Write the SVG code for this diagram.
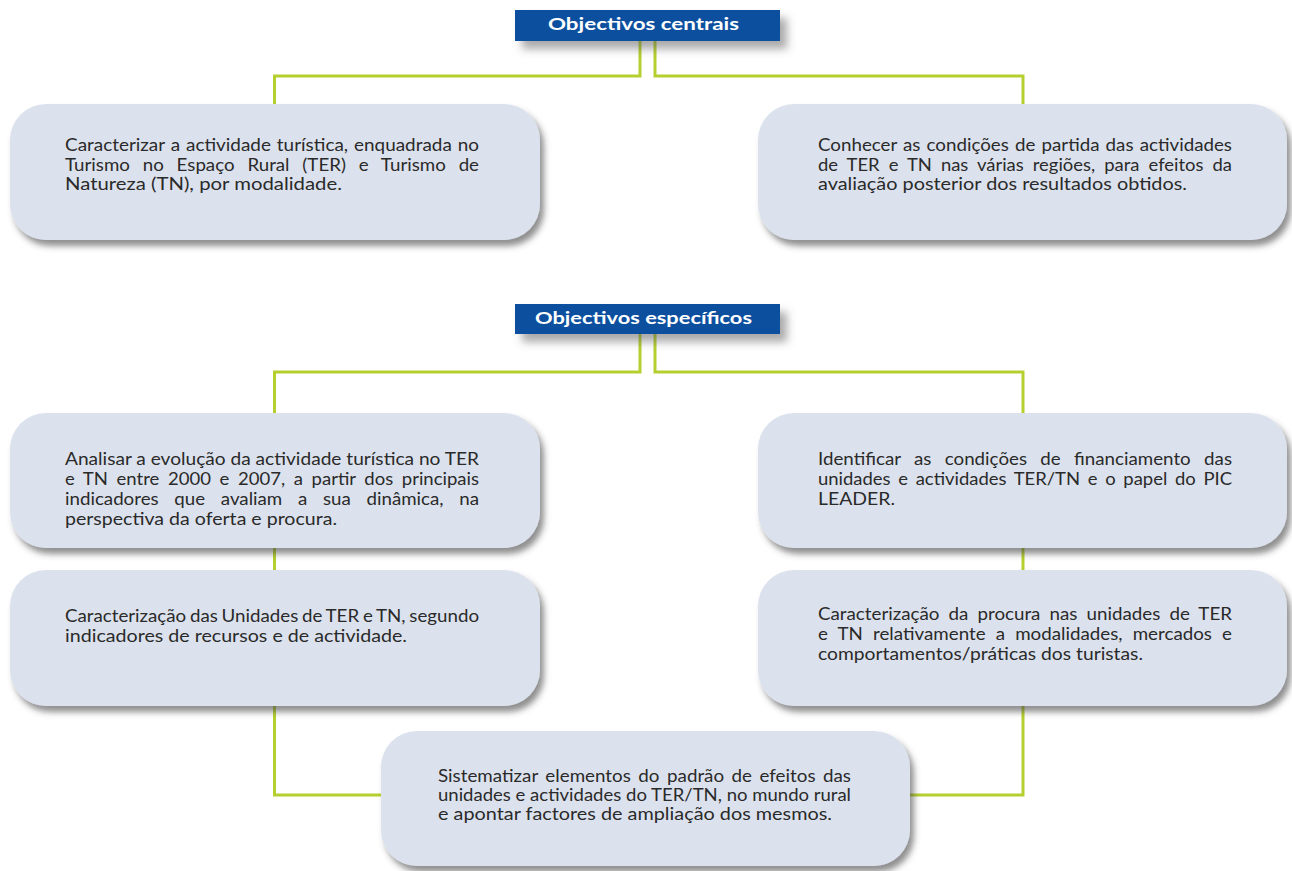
<svg xmlns="http://www.w3.org/2000/svg" width="1292" height="871" viewBox="0 0 1292 871">
<defs>
<filter id="sh" x="-5%" y="-10%" width="115%" height="130%">
<feDropShadow dx="4" dy="6" stdDeviation="3" flood-color="#444" flood-opacity="0.6"/>
</filter>
<filter id="hsh" x="-10%" y="-30%" width="130%" height="190%">
<feDropShadow dx="7" dy="8" stdDeviation="4" flood-color="#555" flood-opacity="0.5"/>
</filter>
<style>
.box{fill:#dce2ed;filter:url(#sh)}
.hdr{fill:#0e4f9f;filter:url(#hsh)}
.ht{font-family:Lato,"Liberation Sans",sans-serif;font-weight:bold;font-size:17.5px;fill:#ffffff}
.t{font-family:Lato,"Liberation Sans",sans-serif;font-size:17.5px;fill:#2a2a2a}
.c{fill:none;stroke:#b4d02f;stroke-width:3}
</style>
</defs>
<rect width="1292" height="871" fill="#ffffff"/>
<g id="connectors">
<path class="c" d="M640,41 V76 H274.5 V104"/>
<path class="c" d="M655,41 V76 H1023 V104"/>
<path class="c" d="M640,334 V372 H274.5 V413"/>
<path class="c" d="M655,334 V372 H1023 V413"/>
<path class="c" d="M274.5,548 V571"/>
<path class="c" d="M1023,548 V571"/>
<path class="c" d="M274.5,706 V795 H382"/>
<path class="c" d="M1023,706 V795 H909"/>
</g>
<g id="hdr-centrais">
<rect class="hdr" x="515" y="10" width="265" height="31"/>
<text class="ht" x="548" y="30" textLength="191" lengthAdjust="spacingAndGlyphs">Objectivos centrais</text>
</g>
<g id="hdr-especificos">
<rect class="hdr" x="515" y="304" width="265" height="30"/>
<text class="ht" x="535" y="324" textLength="217" lengthAdjust="spacingAndGlyphs">Objectivos específicos</text>
</g>
<g id="n1">
<rect class="box" x="10" y="104" width="530" height="136" rx="36"/>
<text class="t" x="65" y="151" word-spacing="1" textLength="414" lengthAdjust="spacingAndGlyphs">Caracterizar a actividade turística, enquadrada no</text>
<text class="t" x="65" y="171" word-spacing="7.5" textLength="414" lengthAdjust="spacingAndGlyphs">Turismo no Espaço Rural (TER) e Turismo de</text>
<text class="t" x="65" y="190" textLength="277" lengthAdjust="spacingAndGlyphs">Natureza (TN), por modalidade.</text>
</g>
<g id="n2">
<rect class="box" x="758" y="104" width="529" height="136" rx="36"/>
<text class="t" x="818" y="151" word-spacing="1.2" textLength="414" lengthAdjust="spacingAndGlyphs">Conhecer as condições de partida das actividades</text>
<text class="t" x="818" y="171" word-spacing="4.1" textLength="414" lengthAdjust="spacingAndGlyphs">de TER e TN nas várias regiões, para efeitos da</text>
<text class="t" x="818" y="190" textLength="369" lengthAdjust="spacingAndGlyphs">avaliação posterior dos resultados obtidos.</text>
</g>
<g id="n3">
<rect class="box" x="10" y="413" width="530" height="135" rx="36"/>
<text class="t" x="65" y="465" word-spacing="0" textLength="414" lengthAdjust="spacingAndGlyphs">Analisar a evolução da actividade turística no TER</text>
<text class="t" x="65" y="485" word-spacing="3.7" textLength="414" lengthAdjust="spacingAndGlyphs">e TN entre 2000 e 2007, a partir dos principais</text>
<text class="t" x="65" y="505" word-spacing="10.2" textLength="414" lengthAdjust="spacingAndGlyphs">indicadores que avaliam a sua dinâmica, na</text>
<text class="t" x="65" y="525" textLength="272" lengthAdjust="spacingAndGlyphs">perspectiva da oferta e procura.</text>
</g>
<g id="n4">
<rect class="box" x="10" y="570" width="530" height="136" rx="36"/>
<text class="t" x="65" y="622" word-spacing="-1" textLength="414" lengthAdjust="spacingAndGlyphs">Caracterização das Unidades de TER e TN, segundo</text>
<text class="t" x="65" y="642" textLength="342" lengthAdjust="spacingAndGlyphs">indicadores de recursos e de actividade.</text>
</g>
<g id="n5">
<rect class="box" x="758" y="413" width="529" height="135" rx="36"/>
<text class="t" x="818" y="465" word-spacing="8" textLength="414" lengthAdjust="spacingAndGlyphs">Identificar as condições de financiamento das</text>
<text class="t" x="818" y="485" word-spacing="2.8" textLength="414" lengthAdjust="spacingAndGlyphs">unidades e actividades TER/TN e o papel do PIC</text>
<text class="t" x="818" y="505" textLength="77" lengthAdjust="spacingAndGlyphs">LEADER.</text>
</g>
<g id="n6">
<rect class="box" x="758" y="570" width="529" height="136" rx="36"/>
<text class="t" x="818" y="620" word-spacing="4" textLength="414" lengthAdjust="spacingAndGlyphs">Caracterização da procura nas unidades de TER</text>
<text class="t" x="818" y="640" word-spacing="5" textLength="414" lengthAdjust="spacingAndGlyphs">e TN relativamente a modalidades, mercados e</text>
<text class="t" x="818" y="660" textLength="325" lengthAdjust="spacingAndGlyphs">comportamentos/práticas dos turistas.</text>
</g>
<g id="n7">
<rect class="box" x="381" y="731" width="529" height="135" rx="36"/>
<text class="t" x="438" y="782" word-spacing="2.5" textLength="413" lengthAdjust="spacingAndGlyphs">Sistematizar elementos do padrão de efeitos das</text>
<text class="t" x="438" y="801" word-spacing="0" textLength="413" lengthAdjust="spacingAndGlyphs">unidades e actividades do TER/TN, no mundo rural</text>
<text class="t" x="438" y="820" textLength="394" lengthAdjust="spacingAndGlyphs">e apontar factores de ampliação dos mesmos.</text>
</g>
</svg>
